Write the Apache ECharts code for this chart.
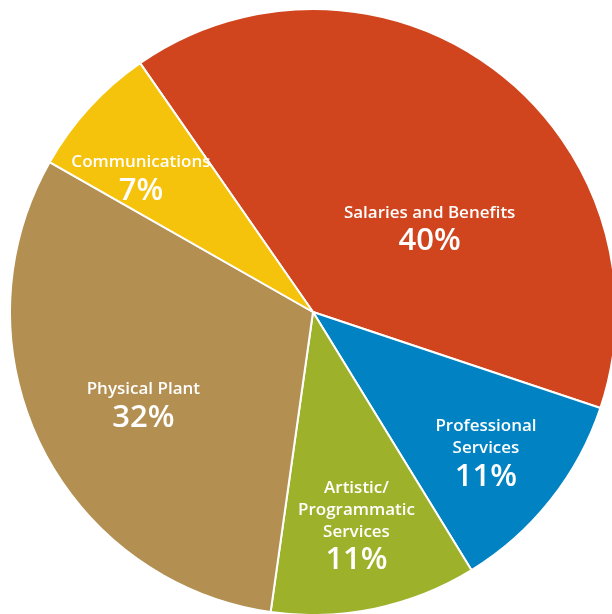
<!DOCTYPE html>
<html>
<head>
<meta charset="utf-8">
<script src="https://cdn.jsdelivr.net/npm/echarts@6/dist/echarts.min.js"></script>
<style>html,body{margin:0;padding:0;background:#fff}#c{width:612px;height:614px}</style>
</head>
<body>
<div id="c"></div>
<script>
// Data
const categories = ['Salaries and Benefits', 'Professional Services', 'Artistic/Programmatic Services', 'Physical Plant', 'Communications'];
const labelNames = ['Salaries and Benefits', 'Professional\nServices', 'Artistic/\nProgrammatic\nServices', 'Physical Plant', 'Communications'];
const shares = [39.8, 11.1, 11.0, 31.0, 7.1];
const shareLabels = ['40%', '11%', '11%', '32%', '7%'];

// Styling / layout (kept separate from data)
const colors = ['#D0451E', '#0082C3', '#9DB22A', '#B38F52', '#F5C30C'];
const labelOffsets = [[24, 42], [52, 47], [12, 64], [-31, 27], [-58, -28]];

const chart = echarts.init(document.getElementById('c'), null, {renderer: 'canvas'});
const data = categories.map((c, i) => ({
  name: c,
  value: shares[i],
  itemStyle: {color: colors[i]},
  label: {
    offset: labelOffsets[i],
    formatter: labelNames[i].split('\n').map(s => '{n|' + s + '}').join('\n') + '\n{p|' + shareLabels[i] + '}'
  }
}));

chart.setOption({
  animation: false,
  series: [{
    type: 'pie',
    center: [313, 312],
    radius: [0, 303],
    startAngle: 124.8,
    clockwise: true,
    avoidLabelOverlap: false,
    itemStyle: {borderColor: '#fff', borderWidth: 2},
    labelLine: {show: false},
    label: {
      show: true,
      position: 'inside',
      color: '#fff',
      align: 'center',
      rich: {
        n: {fontFamily: 'Open Sans', fontWeight: 600, fontSize: 17, lineHeight: 22, color: '#fff', textBorderWidth: 0},
        p: {fontFamily: 'Open Sans', fontWeight: 600, fontSize: 31, lineHeight: 35, color: '#fff', textBorderWidth: 0}
      }
    },
    emphasis: {disabled: true},
    data: data
  }]
});
</script>
</body>
</html>
